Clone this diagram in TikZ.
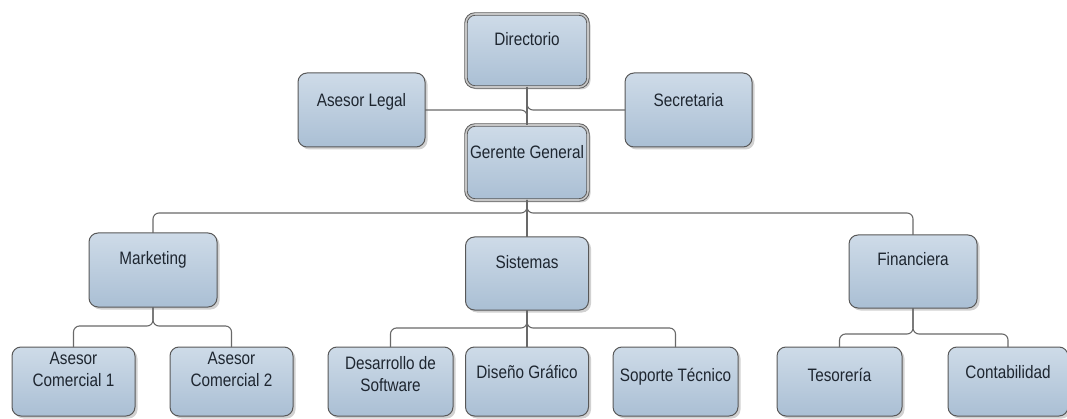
\documentclass[tikz,border=0pt]{standalone}
\usepackage{fontspec}
\setmainfont{Liberation Sans}[FakeStretch=0.85]
\usetikzlibrary{shadows}
\definecolor{boxtop}{RGB}{206,219,232}
\definecolor{boxbot}{RGB}{170,191,212}
\definecolor{boxline}{RGB}{88,88,88}
\definecolor{wire}{RGB}{105,105,105}
\definecolor{ink}{RGB}{30,38,48}
% text block pinned to the top of a box: height, first baseline, content
\newcommand\toptext[3]{\parbox[t][#1][t]{120pt}{\centering\rule{0pt}{#2}#3}}
\tikzset{
  orgbox/.style 2 args={draw=boxline, line width=1pt, rounded corners=9pt,
    top color=boxtop, bottom color=boxbot, inner sep=0pt, outer sep=0pt,
    minimum width=#1, minimum height=#2, text=ink,
    drop shadow={shadow xshift=2.5pt, shadow yshift=-2.5pt, fill=black, opacity=0.18}},
  headbox/.style={double=gray!45, double distance=1.6pt, line width=0.9pt},
  wiring/.style={draw=wire, line width=1.1pt, rounded corners=6pt}
}
\begin{document}
\begin{tikzpicture}[x=1pt, y=-1pt, font=\fontsize{18}{22}\selectfont]
\useasboundingbox (0,0) rectangle (1067,419);

% top level
\node[orgbox={122pt}{73pt}, headbox] (dir) at (527,50.5) {\toptext{73pt}{32pt}{Directorio}};
\node[orgbox={127pt}{74pt}] (al) at (361.5,110) {\toptext{74pt}{34pt}{Asesor Legal}};
\node[orgbox={127pt}{74pt}] (sec) at (688.5,110) {\toptext{74pt}{34pt}{Secretaria}};
\node[orgbox={122pt}{75pt}, headbox] (gg) at (527,162.5) {\toptext{75pt}{34pt}{Gerente General}};

% departments
\node[orgbox={128pt}{74pt}] (mkt) at (153,270) {\toptext{74pt}{32pt}{Marketing}};
\node[orgbox={123pt}{73pt}] (sis) at (527,273.5) {\toptext{73pt}{32pt}{Sistemas}};
\node[orgbox={128pt}{73pt}] (fin) at (913,271.5) {\toptext{73pt}{31pt}{Financiera}};

% staff
\node[orgbox={123pt}{69pt}] (ac1) at (73.5,381.5) {\toptext{69pt}{17pt}{Asesor\\Comercial 1}};
\node[orgbox={123pt}{69pt}] (ac2) at (231.5,381.5) {\toptext{69pt}{17pt}{Asesor\\Comercial 2}};
\node[orgbox={125pt}{69pt}] (des) at (390.5,381.5) {\toptext{69pt}{22pt}{Desarrollo de\\Software}};
\node[orgbox={123pt}{69pt}] (dis) at (527,381.5) {\toptext{69pt}{31pt}{Diseño Gráfico}};
\node[orgbox={125pt}{69pt}] (sop) at (675.5,381.5) {\toptext{69pt}{34pt}{Soporte Técnico}};
\node[orgbox={125pt}{69pt}] (tes) at (839.5,381.5) {\toptext{69pt}{34pt}{Tesorería}};
\node[orgbox={110pt}{69pt}] (con) at (1008,381.5) {\toptext{69pt}{31pt}{Contabilidad}};

% bus levels
\coordinate (busA) at (0,213);
\coordinate (busM) at (0,326);
\coordinate (busS) at (0,328);
\coordinate (busF) at (0,334);

% connectors
\begin{scope}[on background layer/.try]
\draw[wiring] (dir.south) -- (gg.north);
\draw[wiring] (al.east) -| (gg.north);
\draw[wiring] (sec.west) -| (dir.south);

\draw[wiring] (gg.south) -- (sis.north);
\draw[wiring] (mkt.north) |- (busA -| gg.south) -- (gg.south);
\draw[wiring] (fin.north) |- (busA -| gg.south) -- (gg.south);

\draw[wiring] (ac1.north) |- (busM -| mkt.south) -- (mkt.south);
\draw[wiring] (ac2.north) |- (busM -| mkt.south) -- (mkt.south);

\draw[wiring] (sis.south) -- (dis.north);
\draw[wiring] (des.north) |- (busS -| sis.south) -- (sis.south);
\draw[wiring] (sop.north) |- (busS -| sis.south) -- (sis.south);

\draw[wiring] (tes.north) |- (busF -| fin.south) -- (fin.south);
\draw[wiring] (con.north) |- (busF -| fin.south) -- (fin.south);
\end{scope}
\end{tikzpicture}
\end{document}
